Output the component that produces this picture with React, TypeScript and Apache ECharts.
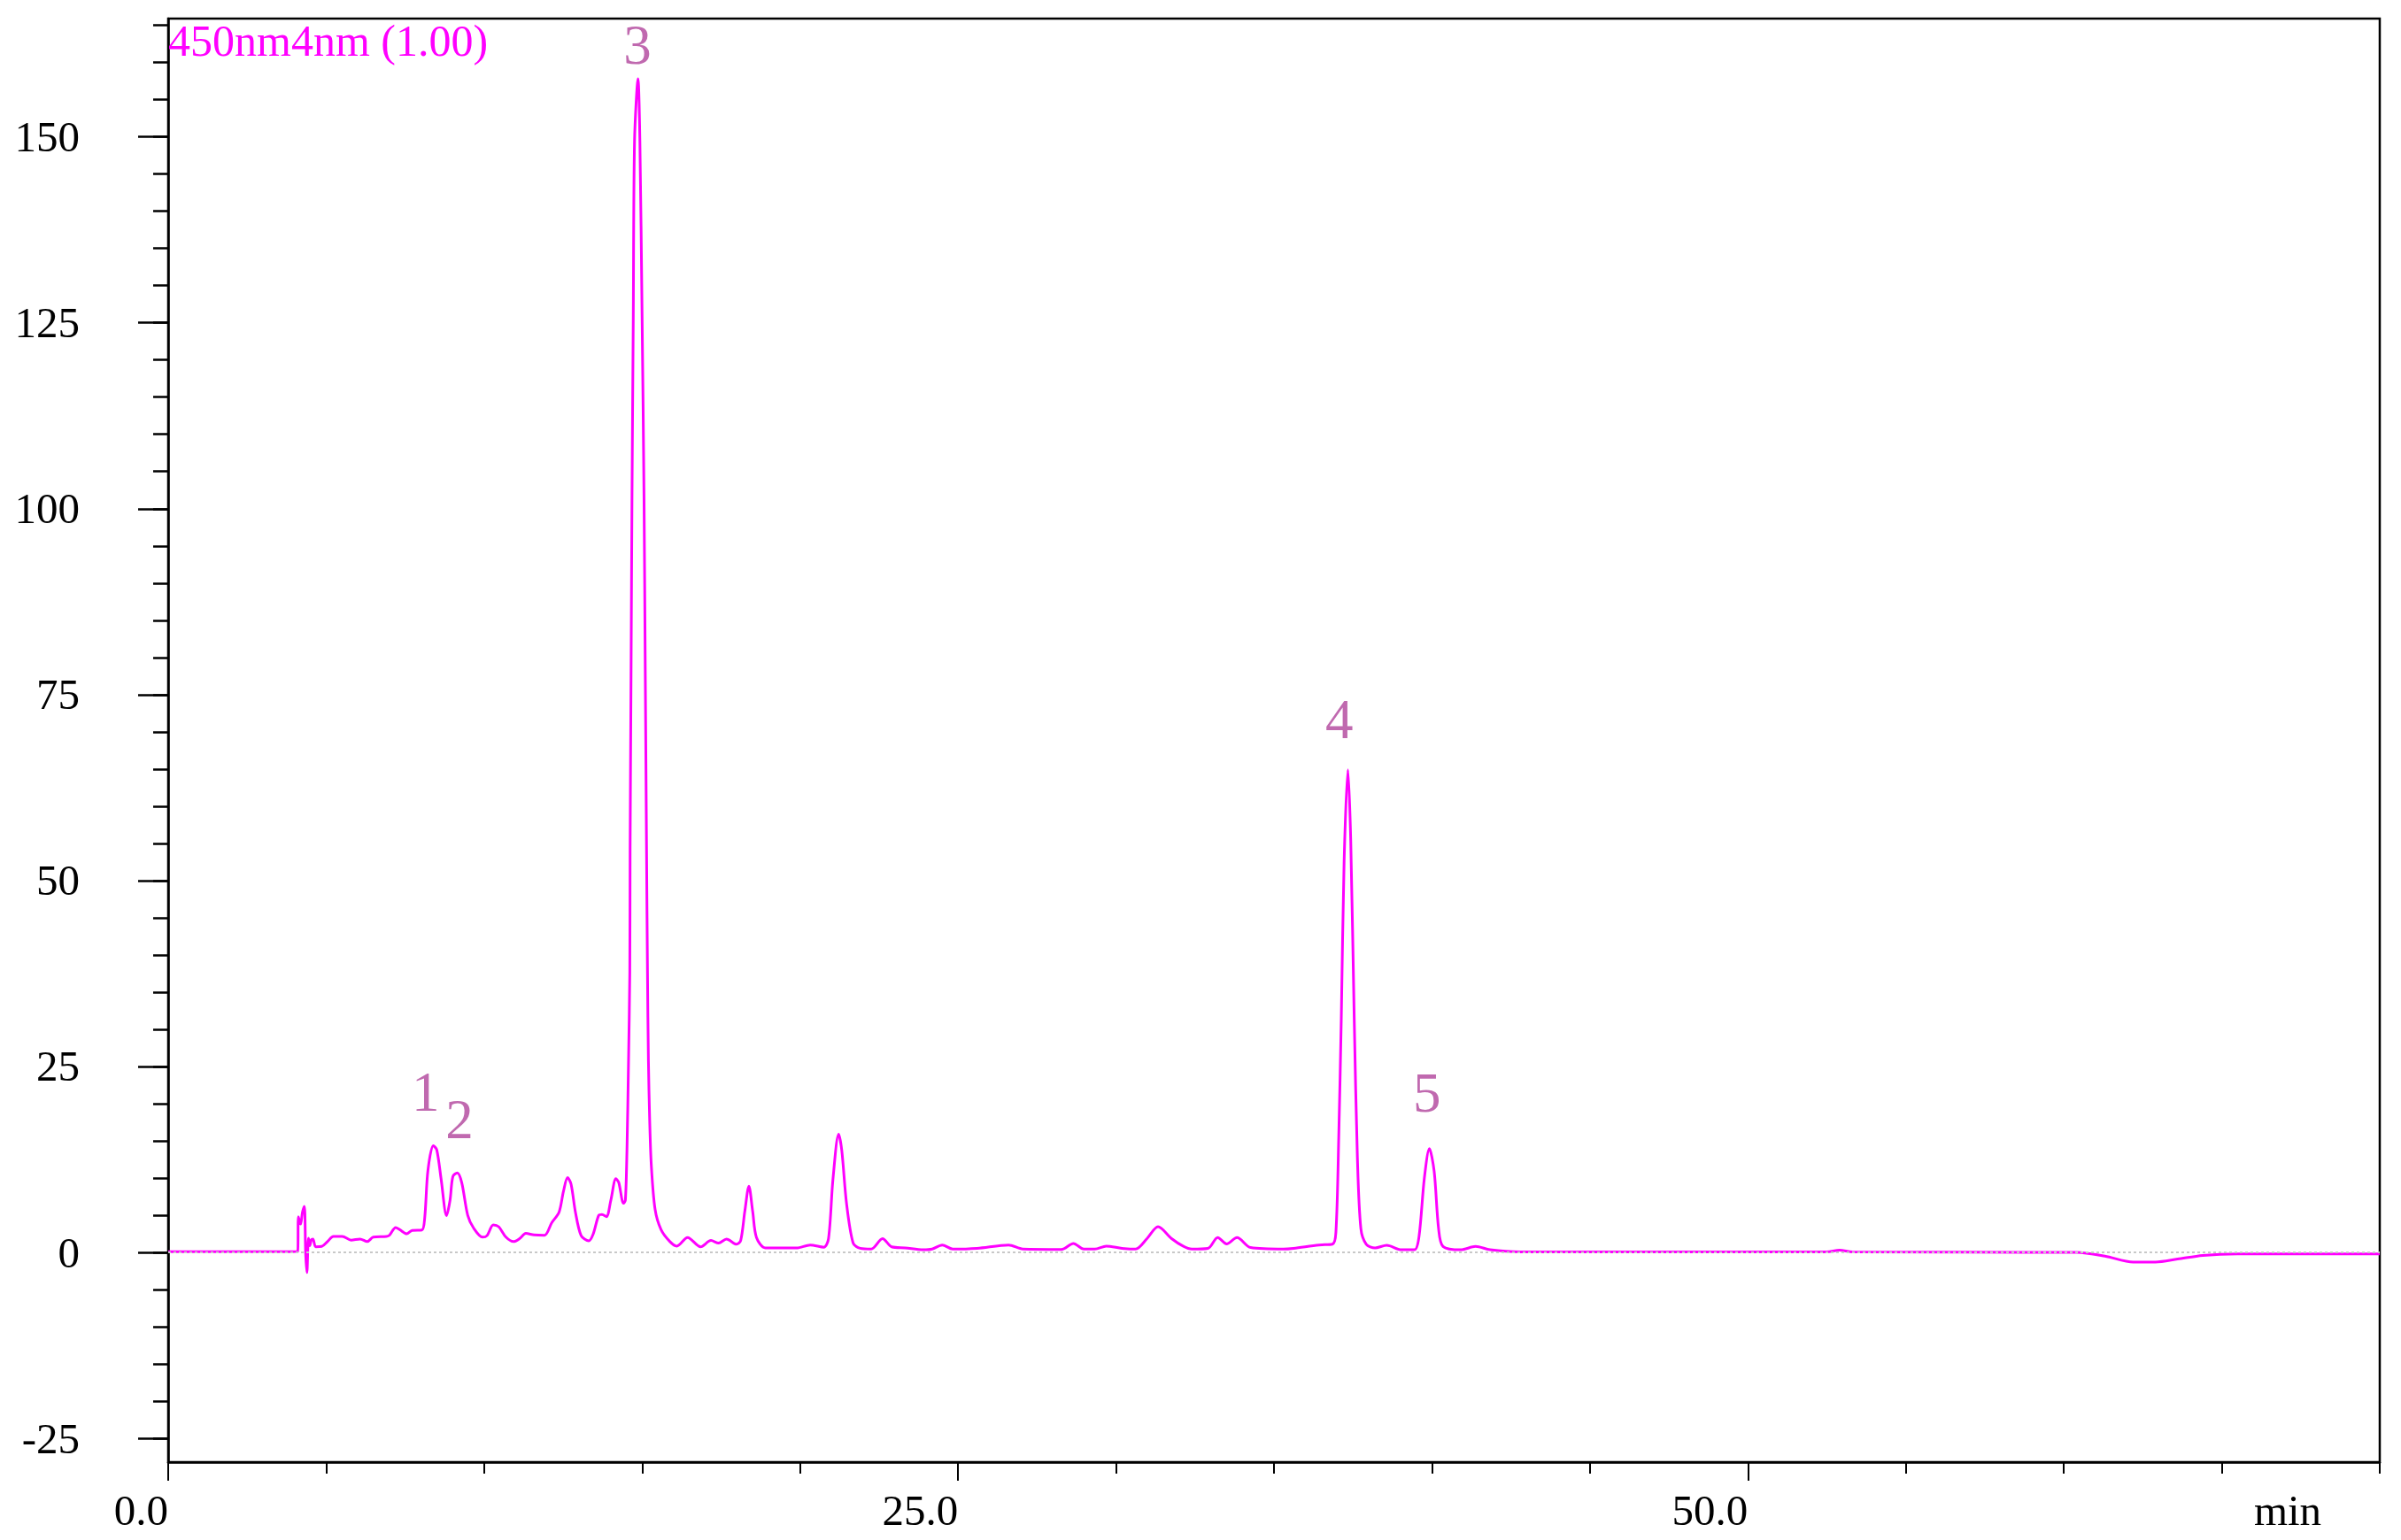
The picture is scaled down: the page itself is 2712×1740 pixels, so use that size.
import React, { useEffect, useRef } from "react";
import * as echarts from "echarts";

// Chromatogram trace: [time (min), signal (mAU)]
const trace: [number, number][] = [
  [0, 0.08], [3.6, 0.08], [4.1, 0.12], [4.12, 4.8], [4.19, 3.8], [4.25, 5.4], [4.31, 6.2],
  [4.35, -0.1], [4.39, -2.7], [4.44, 1.9], [4.48, 0.9], [4.53, 1.7], [4.58, 1.8], [4.67, 0.75],
  [4.86, 0.8], [5.04, 1.45], [5.23, 2.15], [5.51, 2.15], [5.79, 1.65], [6.07, 1.8], [6.3, 1.45],
  [6.49, 2.05], [6.91, 2.15], [7.0, 2.3], [7.2, 3.35], [7.33, 3.05], [7.55, 2.5], [7.72, 2.95],
  [8.03, 3.0], [8.12, 4.7], [8.22, 11.0], [8.39, 14.35], [8.5, 13.8], [8.64, 9.8], [8.81, 4.95],
  [8.92, 7.0], [9.01, 10.2], [9.15, 10.7], [9.29, 9.4], [9.48, 5.0], [9.67, 3.25], [9.95, 2.05],
  [10.09, 2.25], [10.29, 3.7], [10.46, 3.45], [10.69, 2.05], [10.93, 1.45], [11.12, 1.85],
  [11.32, 2.55], [11.58, 2.35], [11.91, 2.3], [12.14, 4.0], [12.37, 5.4], [12.51, 8.2],
  [12.64, 10.05], [12.75, 9.2], [12.89, 5.4], [13.07, 2.25], [13.31, 1.55], [13.45, 2.45],
  [13.63, 5.0], [13.73, 5.1], [13.87, 4.8], [14.01, 7.0], [14.17, 9.9], [14.26, 9.4],
  [14.41, 6.6], [14.47, 7.0], [14.52, 13.7], [14.57, 25.7], [14.61, 37.6], [14.62, 54.2],
  [14.65, 78], [14.68, 101.8], [14.72, 125.6], [14.76, 149.4], [14.87, 157.8], [14.93, 149.4],
  [15.0, 125.6], [15.06, 101.8], [15.1, 78], [15.14, 54.2], [15.17, 37.6], [15.2, 25.7],
  [15.24, 17.7], [15.29, 11.8], [15.41, 5.8], [15.6, 3.05], [15.88, 1.45], [16.1, 0.85],
  [16.44, 2.0], [16.85, 0.75], [17.18, 1.6], [17.42, 1.25], [17.67, 1.8], [17.99, 1.1],
  [18.12, 1.6], [18.25, 5.5], [18.38, 8.9], [18.5, 5.5], [18.62, 2.0], [18.9, 0.6],
  [19.6, 0.6], [19.89, 0.6], [20.32, 1.0], [20.75, 0.7], [20.9, 1.85], [21.04, 9.8],
  [21.22, 15.9], [21.32, 13.7], [21.47, 6.6], [21.68, 1.25], [21.9, 0.55], [22.25, 0.45],
  [22.61, 1.85], [22.9, 0.75], [23.33, 0.6], [23.9, 0.35], [24.18, 0.45], [24.5, 1.0],
  [24.83, 0.45], [25.6, 0.55], [26.6, 1.0], [27.05, 0.45], [28.27, 0.4], [28.65, 1.2],
  [28.98, 0.45], [29.33, 0.45], [29.69, 0.85], [30.19, 0.55], [30.62, 0.45], [30.98, 1.85],
  [31.33, 3.45], [31.76, 1.85], [32.12, 0.85], [32.4, 0.45], [32.91, 0.55], [33.22, 2.0],
  [33.5, 1.15], [33.83, 2.0], [34.26, 0.65], [35.3, 0.45], [35.62, 0.55], [36.42, 1.0],
  [36.85, 1.1], [36.96, 2.7], [37.05, 15.5], [37.13, 31.4], [37.22, 52.6], [37.34, 64.9],
  [37.43, 55.3], [37.54, 31.4], [37.64, 12.8], [37.75, 3.2], [37.92, 1.1], [38.2, 0.6],
  [38.57, 0.95], [39.03, 0.35], [39.45, 0.35], [39.59, 2.1], [39.76, 10.0], [39.92, 13.95],
  [40.07, 10.9], [40.21, 3.2], [40.35, 0.8], [40.91, 0.35], [41.38, 0.8], [41.84, 0.35],
  [42.78, 0.07], [52.5, 0.05], [52.9, 0.3], [53.3, 0.05], [60.4, 0.0], [61.3, -0.5],
  [62.2, -1.3], [62.9, -1.3], [63.6, -0.9], [64.4, -0.4], [65.5, -0.2], [70, -0.2],
];

// Peak number annotations, placed at [time, signal]
const peakNames = ["1", "2", "3", "4", "5"];
const peakLabelPos: [number, number][] = [
  [8.15, 21.6], [9.22, 17.9], [14.85, 162.3], [37.07, 71.6], [39.84, 21.4],
];

const xMajorTicks = [0, 25, 50];
const xMinorTicks = [5, 10, 15, 20, 30, 35, 40, 45, 55, 60, 65, 70];
const yMajorTicks = [-25, 0, 25, 50, 75, 100, 125, 150];
const yMinorTicks = [
  -25, -20, -15, -10, -5, 0, 5, 10, 15, 20, 25, 30, 35, 40, 45, 50, 55, 60, 65, 70, 75, 80,
  85, 90, 95, 100, 105, 110, 115, 120, 125, 130, 135, 140, 145, 150, 155, 160, 165,
];

const channelTitle = "450nm4nm (1.00)";
const xUnit = "min";

const FONT = "'Liberation Serif', 'Times New Roman', serif";

export default function App() {
  const ref = useRef<HTMLDivElement>(null);
  useEffect(() => {
    if (!ref.current) return;
    const chart = echarts.init(ref.current, undefined, { renderer: "svg" });
    const yMin = -28.2;
    const yMax = 165.9;
    chart.setOption({
      animation: false,
      backgroundColor: "#ffffff",
      title: {
        text: channelTitle,
        left: 190,
        top: 21,
        padding: 0,
        textStyle: { fontFamily: FONT, fontSize: 50, fontWeight: "normal", color: "#ff00ff" },
      },
      grid: {
        left: 190, right: 24, top: 21, bottom: 88,
        show: true, borderColor: "#000", borderWidth: 2.5, backgroundColor: "transparent",
      },
      xAxis: [
        {
          type: "value", min: 0, max: 70, position: "bottom",
          axisLine: { show: true, onZero: false, lineStyle: { color: "#000", width: 2.5 } },
          axisTick: { show: true, customValues: xMajorTicks, length: 21, lineStyle: { color: "#000", width: 2 } },
          axisLabel: {
            show: true, customValues: xMajorTicks, formatter: (v: number) => v.toFixed(1),
            align: "right", margin: 30, fontSize: 49, fontFamily: FONT, color: "#000",
          },
          splitLine: { show: false },
        },
        {
          type: "value", min: 0, max: 70, position: "bottom",
          axisLine: { show: false, onZero: false },
          axisTick: { show: true, customValues: xMinorTicks, length: 13, lineStyle: { color: "#000", width: 2 } },
          axisLabel: { show: false },
          splitLine: { show: false },
        },
      ],
      yAxis: [
        {
          type: "value", min: yMin, max: yMax, position: "left",
          axisLine: { show: true, onZero: false, lineStyle: { color: "#000", width: 2.5 } },
          axisTick: { show: true, customValues: yMajorTicks, length: 34, lineStyle: { color: "#000", width: 2.5 } },
          axisLabel: {
            show: true, customValues: yMajorTicks, margin: 100,
            fontSize: 49, fontFamily: FONT, color: "#000",
          },
          splitLine: { show: false },
        },
        {
          type: "value", min: yMin, max: yMax, position: "left",
          axisLine: { show: false, onZero: false },
          axisTick: { show: true, customValues: yMinorTicks, length: 17, lineStyle: { color: "#000", width: 2.5 } },
          axisLabel: { show: false },
          splitLine: { show: false },
        },
      ],
      series: [
        {
          type: "line",
          xAxisIndex: 0, yAxisIndex: 0,
          data: trace,
          showSymbol: false,
          smooth: 0.3,
          lineStyle: { color: "#ff00ff", width: 3 },
          markLine: {
            silent: true, symbol: "none", label: { show: false },
            lineStyle: { color: "#c8c8c8", type: [3, 3], width: 2 },
            data: [{ yAxis: 0 }],
          },
          z: 3,
        },
        {
          type: "scatter",
          xAxisIndex: 0, yAxisIndex: 0,
          symbolSize: 1,
          itemStyle: { color: "transparent" },
          data: peakNames.map((n, i) => ({ name: n, value: peakLabelPos[i] })),
          label: {
            show: true, position: "inside", formatter: (p: any) => p.name,
            fontFamily: FONT, fontSize: 63, color: "#b0449b",
          },
          z: 4,
        },
      ],
      graphic: [
        {
          type: "text", x: 2584, y: 1706,
          style: {
            text: xUnit, fontFamily: FONT, fontSize: 49, fill: "#000",
            textAlign: "center", textVerticalAlign: "middle",
          },
        },
      ],
    });
    return () => chart.dispose();
  }, []);
  return (
    <div
      ref={ref}
      style={{ position: "fixed", left: 0, top: 0, width: 2712, height: 1740, background: "#fff" }}
    />
  );
}
